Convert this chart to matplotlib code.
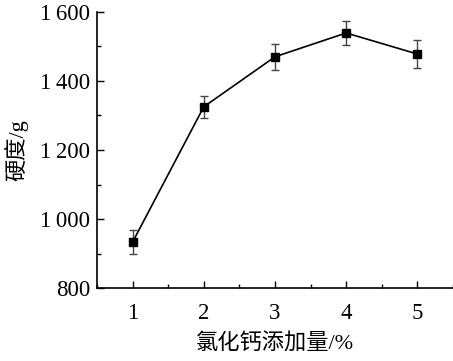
import matplotlib
matplotlib.use("Agg")
import matplotlib.pyplot as plt
from matplotlib.ticker import MultipleLocator

x = [1, 2, 3, 4, 5]
hardness = [933, 1325, 1470, 1539, 1478]
err = [35, 32, 38, 35, 40]
yticks = [800, 1000, 1200, 1400, 1600]
ytick_labels = ["800", "1\u2009000", "1\u2009200", "1\u2009400", "1\u2009600"]
xlabel = "氯化钙添加量/%"
ylabel = "硬度/g"

plt.rcParams['font.family'] = ['Liberation Serif', 'Noto Sans CJK SC']

fig = plt.figure(figsize=(4.53, 3.61), dpi=100)
ax = fig.add_axes([0.214, 0.202, 0.786, 0.765])

ax.errorbar(x, hardness, yerr=err, color='black', marker='s', markersize=6,
            linewidth=1.2, ecolor='#444444', elinewidth=1.0, capsize=3, capthick=1.0)

ax.set_xlim(0.5, 5.5)
ax.set_ylim(800, 1600)
ax.set_xticks(x)
ax.set_xticklabels([str(v) for v in x])
ax.xaxis.set_minor_locator(MultipleLocator(0.5))
ax.set_yticks(yticks)
ax.set_yticklabels(ytick_labels, family=['Liberation Serif', 'DejaVu Serif'])
ax.yaxis.set_minor_locator(MultipleLocator(100))

for s in ['top', 'right']:
    ax.spines[s].set_visible(False)
for s in ['left', 'bottom']:
    ax.spines[s].set_linewidth(1.2)

ax.tick_params(axis='y', which='major', direction='in', length=5, width=1.0, labelsize=16.5, pad=5)
ax.tick_params(axis='x', which='major', direction='in', length=5, width=1.0, labelsize=16.5, pad=11)
ax.tick_params(axis='both', which='minor', direction='in', length=3, width=1.0)

ax.set_xlabel(xlabel, fontsize=16, family=['Liberation Serif', 'Noto Sans CJK SC'], labelpad=6)
ax.set_ylabel(ylabel, fontsize=16, family=['Liberation Serif', 'Noto Sans CJK SC'], labelpad=8)

fig.savefig("out.png", dpi=100)
